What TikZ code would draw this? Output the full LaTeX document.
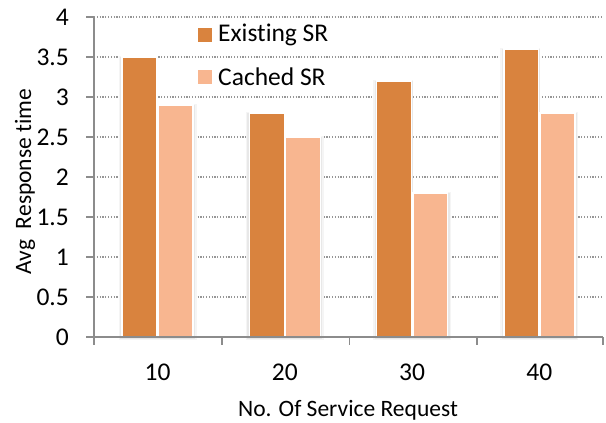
\documentclass[tikz,border=0pt]{standalone}
\usepackage{fontspec}
\setmainfont{Carlito}[Ligatures=NoCommon]
\definecolor{exist}{RGB}{217,131,62}
\definecolor{cached}{RGB}{248,182,144}
\definecolor{axisgray}{RGB}{140,140,140}
\definecolor{gridgray}{RGB}{150,150,150}
\begin{document}
\begin{tikzpicture}[x=1pt,y=-1pt,
  gridline/.style={draw=gridgray,line width=1.2pt,dash pattern=on 1.2pt off 1.6pt},
  axisline/.style={draw=axisgray,line width=1.6pt},
  barshadow/.style={fill=black!9,draw=none},
  barshadowouter/.style={fill=black!4,draw=none},
  barexist/.style={fill=exist,draw=white,line width=1.4pt},
  barcached/.style={fill=cached,draw=white,line width=1.4pt},
  ticklabel/.style={font=\fontsize{25.5}{28}\selectfont,inner sep=0pt},
  titlelabel/.style={font=\fontsize{23.5}{27}\selectfont,inner sep=0pt},
  legendtext/.style={font=\fontsize{25.5}{28}\selectfont,inner sep=0pt,anchor=west}]
\useasboundingbox (0,0) rectangle (606,423);
% gridlines
\foreach \v in {0.5,1,...,4.01}{
  \draw[gridline] (94,{337-80*\v}) -- (603,{337-80*\v});
}
% bars
\foreach \c/\a/\b [count=\i] in {157.6/3.5/2.9,284.9/2.8/2.5,412.1/3.2/1.8,539.4/3.6/2.8}{
  \fill[barshadowouter] (\c-39,{337-80*\a-1}) rectangle (\c+0.5,340);
  \fill[barshadowouter] (\c-0.5,{337-80*\b-1}) rectangle (\c+39,340);
  \fill[barshadow] (\c-37.5,{337-80*\a}) rectangle (\c+0.5,339);
  \fill[barshadow] (\c-0.5,{337-80*\b}) rectangle (\c+37.5,339);
  \draw[barexist] (\c-35.5,{337-80*\a}) rectangle (\c-0.7,337);
  \draw[barcached] (\c+0.7,{337-80*\b}) rectangle (\c+35.5,337);
  \node[ticklabel] (xl\i) at (\c,372) {\number\numexpr\i*10\relax};
}
% axes
\draw[axisline] (94,17) -- (94,345);
\draw[axisline] (94,337) -- (603,337);
\foreach \v in {0,0.5,...,4.01}{
  \draw[axisline] (86,{337-80*\v}) -- (94,{337-80*\v});
}
\foreach \x in {222.25,349.5,476.75,603}{
  \draw[axisline] (\x,337) -- (\x,345);
}
% y tick labels
\foreach \v/\t [count=\i] in {0/0,0.5/0.5,1/1,1.5/1.5,2/2,2.5/2.5,3/3,3.5/3.5,4/4}{
  \node[ticklabel,anchor=east] (yl\i) at (69,{337-80*\v}) {\t};
}
% titles
\node[titlelabel,rotate=90] (ytitle) at (25,181.5) {Avg\ \ Response time};
\node[titlelabel] (xtitle) at (348,410) {No. Of Service Request};
% legend
\node[fill=exist,minimum size=14pt,inner sep=0pt] (lg1) at (205,35) {};
\node[legendtext] (lt1) at (218,35) {Existing SR};
\node[fill=cached,minimum size=14pt,inner sep=0pt] (lg2) at (205,77) {};
\node[legendtext] (lt2) at (218,77) {Cached SR};
\end{tikzpicture}
\end{document}
